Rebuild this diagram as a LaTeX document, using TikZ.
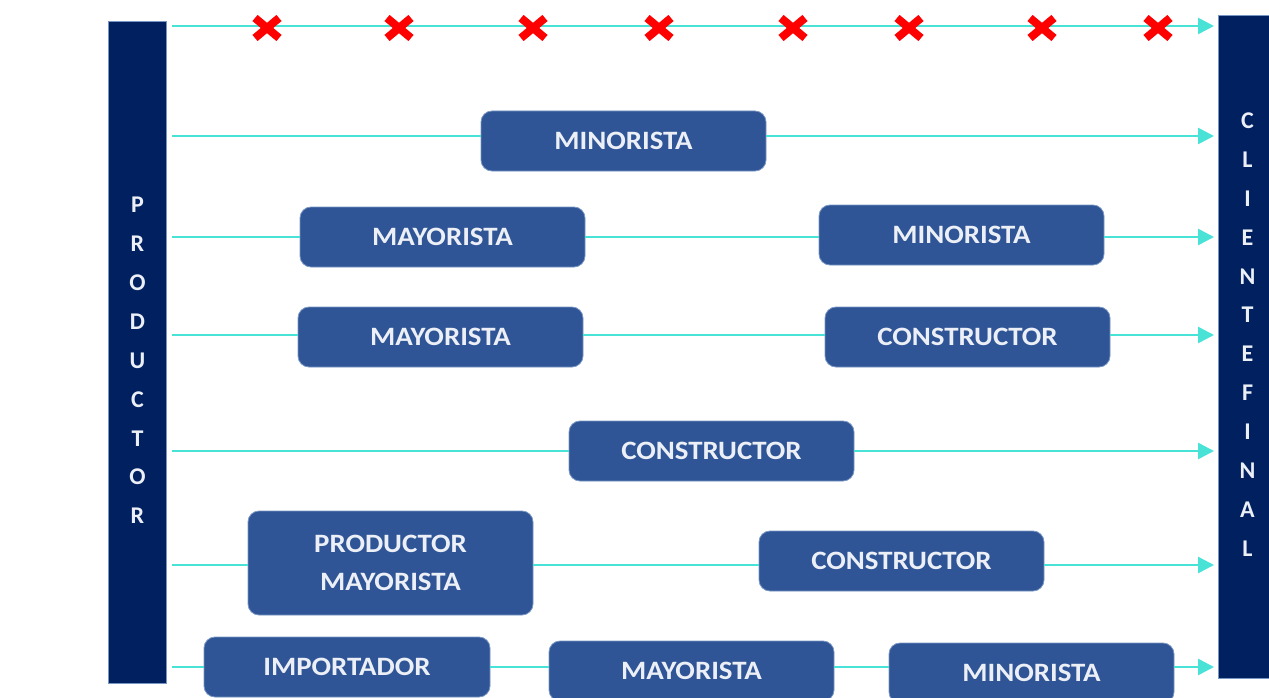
\documentclass[tikz,border=0pt]{standalone}
\usepackage{fontspec}
\setmainfont{Carlito}
\newfontfamily\cajafont[FakeStretch=1.09]{Carlito}
\usetikzlibrary{arrows.meta}

\definecolor{azulbarra}{RGB}{0,32,96}
\definecolor{azulcaja}{RGB}{47,85,151}
\definecolor{turquesa}{RGB}{72,226,214}
\definecolor{borde}{RGB}{120,150,195}
\definecolor{textoclaro}{RGB}{236,240,246}

\begin{document}
\begin{tikzpicture}[
  x=1pt, y=-1pt,
  barra/.style={rectangle, fill=azulbarra, draw=borde, line width=1pt, minimum width=58pt, inner sep=0pt},
  letras/.style={text=textoclaro, align=center, inner sep=0pt, font=\fontsize{24}{38.9}\selectfont\bfseries},
  canal/.style={rectangle, rounded corners=11pt, fill=azulcaja, draw=borde, line width=0.8pt, text=textoclaro,
    align=center, inner sep=0pt, minimum width=285pt, minimum height=60pt,
    font=\cajafont\fontsize{26.5}{38}\selectfont\bfseries},
  flujo/.style={draw=turquesa, line width=2.6pt},
  equis/.style={draw=red, line width=8pt},
  >={Triangle[length=16pt,width=16pt]}
]

\clip (0,0) rectangle (1269,698);
\useasboundingbox (0,0) rectangle (1269,698);

% extremos del canal
\node[barra, minimum height=661pt] (productor) at (137.5,352.5) {};
\node[letras, yshift=-8pt] at (productor.center) {P\\R\\O\\D\\U\\C\\T\\O\\R};
\node[barra, minimum height=662pt] (cliente) at (1247.5,347) {};
\node[letras, yshift=12.5pt] at (cliente.center) {C\\L\\I\\E\\N\\T\\E\\F\\I\\N\\A\\L};

\foreach \n/\y in {1/26, 2/136, 3/237, 4/335, 5/451, 6/565, 7/667} {
  \coordinate (p\n) at (172,\y);
  \coordinate (c\n) at (1214,\y);
}

% intermediarios
\node[canal] (min2) at (623.5,141) {MINORISTA};
\node[canal] (may3) at (442.5,237) {MAYORISTA};
\node[canal] (min3) at (961.5,235) {MINORISTA};
\node[canal] (may4) at (440.5,337) {MAYORISTA};
\node[canal] (con4) at (967.5,337) {CONSTRUCTOR};
\node[canal] (con5) at (711.5,451) {CONSTRUCTOR};
\node[canal, minimum height=104pt] (prm6) at (390.5,563) {PRODUCTOR\\MAYORISTA};
\node[canal] (con6) at (901.5,561) {CONSTRUCTOR};
\node[canal, minimum width=286pt] (imp7) at (347,667) {IMPORTADOR};
\node[canal] (may7) at (691.5,671) {MAYORISTA};
\node[canal] (min7) at (1031.5,673) {MINORISTA};

% flujos
\draw[flujo, ->] (p1) -- (c1);
\foreach \x in {267,399,533,659,793,909,1042,1158}
  \draw[equis] (\x-12,18) -- (\x+12,38) (\x-12,38) -- (\x+12,18);

\draw[flujo] (p2) -- (p2 -| min2.west);
\draw[flujo, ->] (p2 -| min2.east) -- (c2);

\draw[flujo] (p3) -- (p3 -| may3.west);
\draw[flujo] (p3 -| may3.east) -- (p3 -| min3.west);
\draw[flujo, ->] (p3 -| min3.east) -- (c3);

\draw[flujo] (p4) -- (p4 -| may4.west);
\draw[flujo] (p4 -| may4.east) -- (p4 -| con4.west);
\draw[flujo, ->] (p4 -| con4.east) -- (c4);

\draw[flujo] (p5) -- (p5 -| con5.west);
\draw[flujo, ->] (p5 -| con5.east) -- (c5);

\draw[flujo] (p6) -- (p6 -| prm6.west);
\draw[flujo] (p6 -| prm6.east) -- (p6 -| con6.west);
\draw[flujo, ->] (p6 -| con6.east) -- (c6);

\draw[flujo] (p7) -- (p7 -| imp7.west);
\draw[flujo] (p7 -| imp7.east) -- (p7 -| may7.west);
\draw[flujo] (p7 -| may7.east) -- (p7 -| min7.west);
\draw[flujo, ->] (p7 -| min7.east) -- (c7);

\end{tikzpicture}
\end{document}
